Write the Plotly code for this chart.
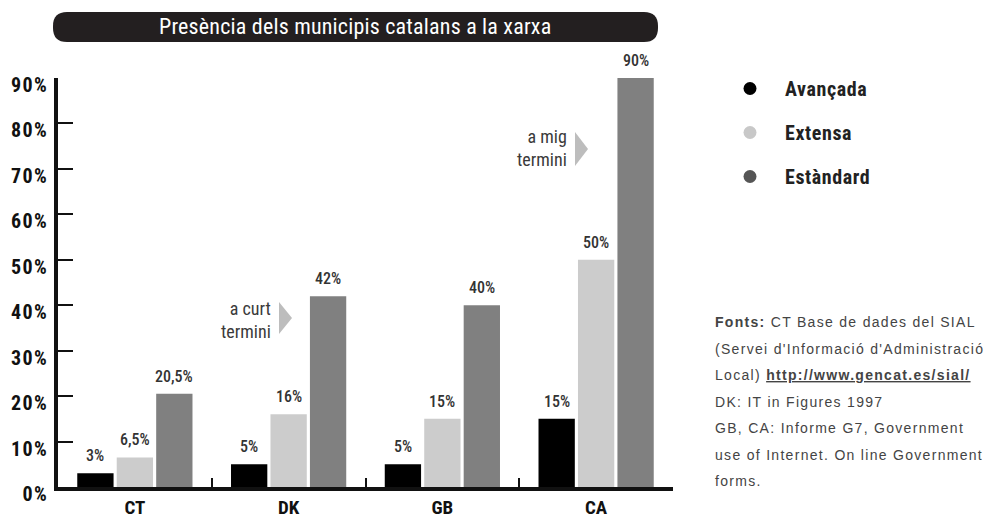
import plotly.graph_objects as go

# ---- data ----
categories = ["CT", "DK", "GB", "CA"]
series_names = ["Avançada", "Extensa", "Estàndard"]
avancada = [3, 5, 5, 15]
extensa = [6.5, 16, 15, 50]
estandard = [20.5, 42, 40, 90]
y_ticks = [0, 10, 20, 30, 40, 50, 60, 70, 80, 90]
y_tick_labels = [f"{v}%" for v in y_ticks]
title_text = "Presència dels municipis catalans a la xarxa"
sources_lines = [
    "<b>Fonts:</b> CT Base de dades del SIAL",
    "(Servei d'Informació d'Administració",
    "Local) <b><u>http://www.gencat.es/sial/</u></b>",
    "DK: IT in Figures 1997",
    "GB, CA: Informe G7, Government",
    "use of Internet. On line Government",
    "forms.",
]

# ---- style ----
W, H = 987, 525
ML, MR, MT, MB = 58, 314, 78, 38
PW, PH = W - ML - MR, H - MT - MB
COND = "Roboto Condensed, Liberation Sans Narrow, DejaVu Sans Condensed, Arial Narrow, sans-serif"
SANS = "Liberation Sans, Arial, Helvetica, sans-serif"
bar_colors = ["#000000", "#cccccc", "#808080"]
legend_colors = ["#000000", "#c8c8c8", "#555555"]
BARGAP, BARGROUPGAP = 0.23, 0.08


def px_x(x):
    return (x - ML) / PW


def px_y(y):
    return (H - MB - y) / PH


def fmt(v):
    return ("%g" % v).replace(".", ",") + "%"


def spaced(t, ls):
    return f'<span style="letter-spacing:{ls}px">{t}</span>'


fig = go.Figure()
all_series = [avancada, extensa, estandard]
for name, vals, col in zip(series_names, all_series, bar_colors):
    fig.add_trace(go.Bar(x=categories, y=vals, name=name, marker=dict(color=col, line=dict(width=0)),
                         showlegend=False, hoverinfo="skip"))

# legend entries (circles)
for i, (name, col) in enumerate(zip(series_names, legend_colors)):
    fig.add_trace(go.Scatter(x=[None], y=[None], mode="markers", name=spaced(name, 0.6), legendgroup=str(i),
                             marker=dict(symbol="circle", size=13, color=col)))

# value labels above bars
slot = (1 - BARGAP) / 3
for j, vals in enumerate(all_series):
    for i, v in enumerate(vals):
        fig.add_annotation(x=i + (j - 1) * slot, y=v, xref="x", yref="y", text=fmt(v),
                           showarrow=False, xanchor="center", yanchor="bottom", yshift=6,
                           font=dict(family=COND, size=16, color="#333333", weight=500))

# title pill
x0, x1 = 53 - ML, 658 - ML
yb, yt = MT - 42, MT - 12
r = 14
pill = (f"M {x0 + r},{yb} L {x1 - r},{yb} Q {x1},{yb} {x1},{yb + r} L {x1},{yt - r} "
        f"Q {x1},{yt} {x1 - r},{yt} L {x0 + r},{yt} Q {x0},{yt} {x0},{yt - r} "
        f"L {x0},{yb + r} Q {x0},{yb} {x0 + r},{yb} Z")
fig.add_shape(type="path", xref="paper", yref="paper", xsizemode="pixel", ysizemode="pixel",
              xanchor=0, yanchor=1, path=pill, fillcolor="#231f20", line=dict(width=0), layer="below")
fig.add_annotation(x=px_x(355), y=px_y(26), xref="paper", yref="paper", text=spaced(title_text, 0.2),
                   showarrow=False, xanchor="center", yanchor="middle",
                   font=dict(family=COND, size=22, color="white", weight="normal"))


# term annotations with arrows
def arrow(xl, ytop, yb_):
    xl_ = xl - ML
    t = H - MB - ytop
    b = H - MB - yb_
    return f"M {xl_},{t} L {xl_ + 13},{(t + b) / 2} L {xl_},{b} Z"


fig.add_shape(type="path", xref="paper", yref="paper", xsizemode="pixel", ysizemode="pixel",
              xanchor=0, yanchor=0, path=arrow(279, 302, 334), fillcolor="#bdbdbd", line=dict(width=0))
fig.add_shape(type="path", xref="paper", yref="paper", xsizemode="pixel", ysizemode="pixel",
              xanchor=0, yanchor=0, path=arrow(575, 132, 166), fillcolor="#bdbdbd", line=dict(width=0))
for txt, xr, yc in [("a curt<br>termini", 273, 320), ("a mig<br>termini", 569, 148)]:
    fig.add_annotation(x=px_x(xr), y=px_y(yc), xref="paper", yref="paper", text=txt, showarrow=False,
                       xanchor="right", yanchor="middle", align="right",
                       font=dict(family=COND, size=18, color="#3a3a3a"))

# sources
for k, line in enumerate(sources_lines):
    fig.add_annotation(x=px_x(713), y=px_y(322 + 26.5 * k), xref="paper", yref="paper",
                       text=spaced(line, 1.3), showarrow=False,
                       xanchor="left", yanchor="middle",
                       font=dict(family=SANS, size=14, color="#444444"))

fig.update_layout(
    width=W, height=H, margin=dict(l=ML, r=MR, t=MT, b=MB, autoexpand=False),
    paper_bgcolor="white", plot_bgcolor="white",
    barmode="group", bargap=BARGAP, bargroupgap=BARGROUPGAP,
    showlegend=True,
    legend=dict(x=px_x(715), y=px_y(69), xanchor="left", yanchor="top", tracegroupgap=15,
                font=dict(family=COND, size=20, color="#222222", weight="bold"), itemwidth=60,
                bgcolor="rgba(0,0,0,0)"),
    xaxis=dict(type="category", showline=True, linecolor="#111111", linewidth=4, mirror=False,
               ticks="inside", tickson="boundaries", ticklen=9, tickwidth=2, tickcolor="#111111",
               showgrid=False, zeroline=False, ticklabelstandoff=0, automargin=False,
               tickfont=dict(family=COND, size=19, color="#111111", weight="bold")),
    yaxis=dict(range=[0, 90], tickvals=y_ticks, ticktext=[spaced(t, 1.3) for t in y_tick_labels],
               showline=True, linecolor="#111111", automargin=False,
               linewidth=4, ticks="inside", ticklen=15, tickwidth=2, tickcolor="#111111",
               showgrid=False, zeroline=False, ticklabelshift=7, ticklabelstandoff=2,
               tickfont=dict(family=COND, size=20, color="#111111", weight="bold")),
    hovermode=False,
)

fig.write_html("out.html", config={"displayModeBar": False},
               post_script="document.body.style.margin='0px';")
